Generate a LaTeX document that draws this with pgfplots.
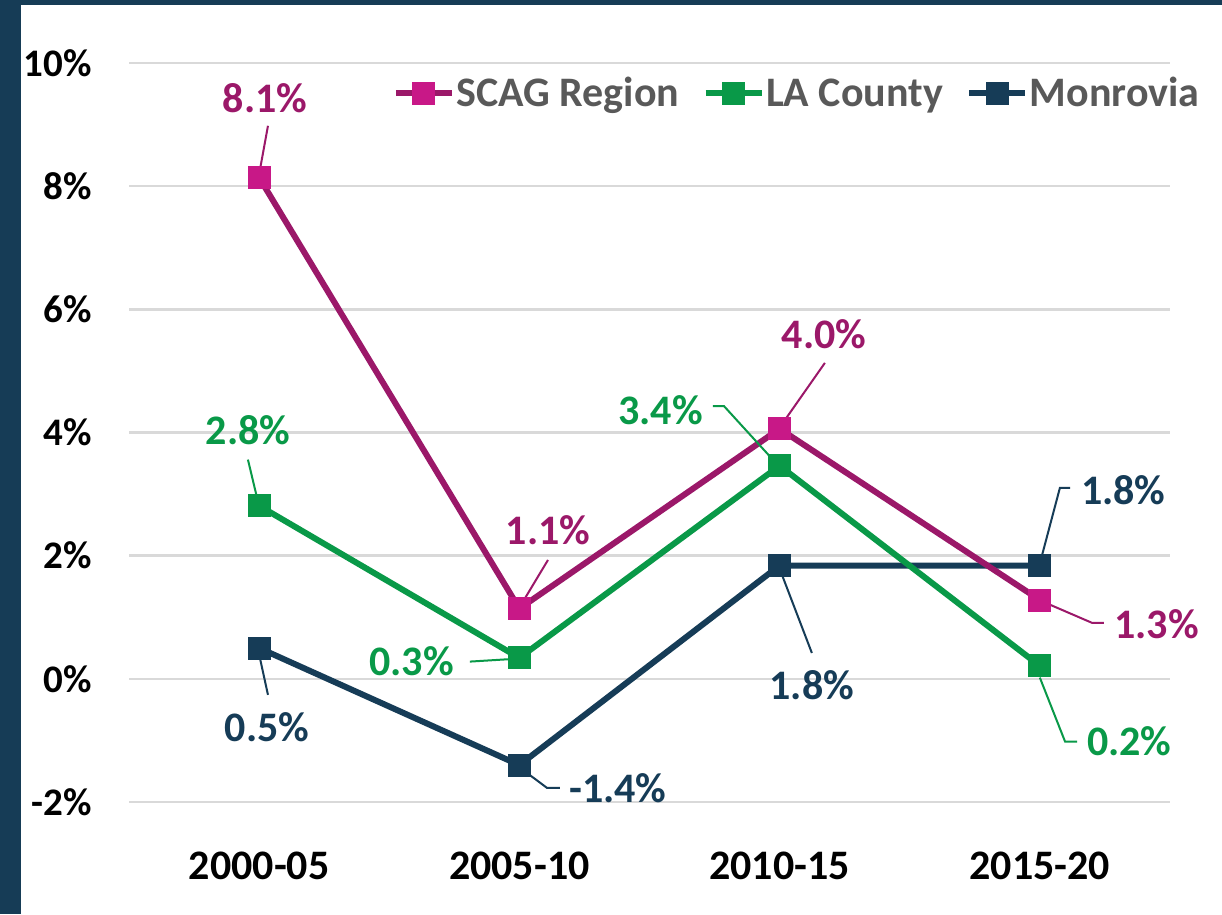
\documentclass[border=0pt]{standalone}
\usepackage{fontspec}
\setmainfont{Carlito}
\usepackage{pgfplots}
\pgfplotsset{compat=1.18}
\definecolor{framec}{RGB}{22,60,86}
\definecolor{scagc}{RGB}{155,24,105}
\definecolor{scagm}{RGB}{200,24,135}
\definecolor{lac}{RGB}{9,153,72}
\definecolor{monc}{RGB}{22,60,87}
\definecolor{gridc}{RGB}{217,217,217}
\definecolor{legtext}{RGB}{89,89,89}
\newcommand{\lab}{\fontsize{42}{50}\selectfont\bfseries}
\begin{document}
\begin{tikzpicture}
\path[use as bounding box] (0pt,0pt) rectangle (1222pt,914pt);
\fill[framec] (0pt,0pt) rectangle (1222pt,914pt);
\fill[white] (21pt,0pt) rectangle (1222pt,909pt);
\begin{axis}[
  at={(129pt,112pt)}, anchor=south west,
  scale only axis, width=1041pt, height=739pt,
  xmin=-0.5, xmax=3.5, ymin=-2, ymax=10,
  axis line style={draw=none},
  major tick style={draw=none}, minor tick style={draw=none},
  ytick={-2,0,2,4,6,8,10},
  yticklabels={-2\%,0\%,2\%,4\%,6\%,8\%,10\%},
  xtick={0,1,2,3},
  xticklabels={2000-05,2005-10,2010-15,2015-20},
  yticklabel style={font=\fontsize{39}{44}\selectfont\bfseries, anchor=east, inner sep=0pt, xshift=-37pt},
  xticklabel style={font=\lab, anchor=north, inner sep=0pt, yshift=-50pt},
  ymajorgrids,
  grid style={color=gridc, line width=2.5pt},
  clip=false,
  legend columns=3,
  legend style={at={(1.030,0.9594)}, anchor=east, draw=none, fill=none,
    font=\lab, text=legtext, inner sep=0pt, nodes={inner sep=1.5pt},
    /tikz/every even column/.append style={column sep=22pt}},
  legend image code/.code={\draw[mark repeat=2,mark phase=2,#1] plot coordinates {(0pt,0pt) (28pt,0pt) (56pt,0pt)};},
]
\addlegendimage{scagc, line width=6pt, mark=square*, mark size=11pt, mark options={solid, draw=scagm, line width=0pt, fill=scagm}}
\addlegendentry{SCAG Region}
\addlegendimage{lac, line width=6pt, mark=square*, mark size=11pt, mark options={solid, draw=lac, line width=0pt, fill=lac}}
\addlegendentry{LA County}
\addlegendimage{monc, line width=6pt, mark=square*, mark size=11pt, mark options={solid, draw=monc, line width=0pt, fill=monc}}
\addlegendentry{Monrovia}

% Monrovia
\addplot[forget plot, monc, line width=6pt, mark=square*, mark size=11pt, mark options={solid, draw=monc, line width=0pt, fill=monc}]
  coordinates {(0,0.50) (1,-1.40) (2,1.84) (3,1.84)};
% LA County
\addplot[forget plot, lac, line width=6pt, mark=square*, mark size=11pt, mark options={solid, draw=lac, line width=0pt, fill=lac}]
  coordinates {(0,2.81) (1,0.34) (2,3.46) (3,0.21)};
% SCAG Region
\addplot[forget plot, scagc, line width=6pt, mark=square*, mark size=11pt, mark options={solid, draw=scagm, line width=0pt, fill=scagm}]
  coordinates {(0,8.14) (1,1.14) (2,4.06) (3,1.28)};

% leader lines
\draw[scagc, line width=2pt] (axis cs:-0.004,8.10) -- (axis cs:0.034,8.98);
\draw[scagc, line width=2pt] (axis cs:0.999,1.15) -- (axis cs:1.110,1.93);
\draw[scagc, line width=2pt] (axis cs:2.0,4.08) -- (axis cs:2.174,5.13);
\draw[scagc, line width=2pt] (axis cs:2.997,1.28) -- (axis cs:3.200,0.91) -- (axis cs:3.246,0.91);
\draw[lac, line width=2pt] (axis cs:-0.008,2.94) -- (axis cs:-0.043,3.56);
\draw[lac, line width=2pt] (axis cs:0.964,0.32) -- (axis cs:0.810,0.28);
\draw[lac, line width=2pt] (axis cs:1.963,3.61) -- (axis cs:1.786,4.43) -- (axis cs:1.744,4.43);
\draw[lac, line width=2pt] (axis cs:3.0,0.02) -- (axis cs:3.097,-1.02) -- (axis cs:3.143,-1.02);
\draw[monc, line width=2pt] (axis cs:0.003,0.34) -- (axis cs:0.034,-0.26);
\draw[monc, line width=2pt] (axis cs:1.033,-1.54) -- (axis cs:1.106,-1.77) -- (axis cs:1.156,-1.77);
\draw[monc, line width=2pt] (axis cs:2.009,1.69) -- (axis cs:2.124,0.42);
\draw[monc, line width=2pt] (axis cs:3.008,2.0) -- (axis cs:3.077,3.10) -- (axis cs:3.116,3.10);

% data labels
\node[scagc, font=\lab, inner sep=0pt] at (axis cs:0.023,9.43) {8.1\%};
\node[scagc, font=\lab, inner sep=0pt] at (axis cs:1.110,2.42) {1.1\%};
\node[scagc, font=\lab, inner sep=0pt] at (axis cs:2.171,5.59) {4.0\%};
\node[scagc, font=\lab, inner sep=0pt, anchor=west] at (axis cs:3.285,0.88) {1.3\%};
\node[lac, font=\lab, inner sep=0pt] at (axis cs:-0.043,4.04) {2.8\%};
\node[lac, font=\lab, inner sep=0pt, anchor=east] at (axis cs:0.749,0.28) {0.3\%};
\node[lac, font=\lab, inner sep=0pt, anchor=east] at (axis cs:1.706,4.37) {3.4\%};
\node[lac, font=\lab, inner sep=0pt, anchor=west] at (axis cs:3.181,-1.02) {0.2\%};
\node[monc, font=\lab, inner sep=0pt] at (axis cs:0.030,-0.78) {0.5\%};
\node[monc, font=\lab, inner sep=0pt, anchor=west] at (axis cs:1.191,-1.77) {-1.4\%};
\node[monc, font=\lab, inner sep=0pt] at (axis cs:2.124,-0.10) {1.8\%};
\node[monc, font=\lab, inner sep=0pt, anchor=west] at (axis cs:3.158,3.07) {1.8\%};
\end{axis}
\end{tikzpicture}
\end{document}
